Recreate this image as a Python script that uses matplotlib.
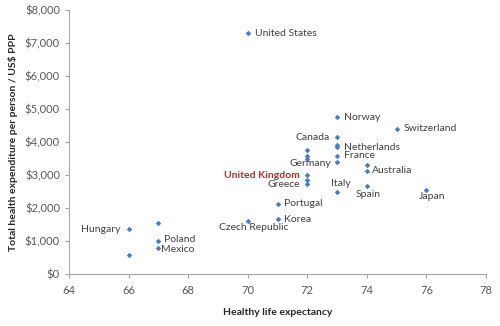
import matplotlib
matplotlib.use("Agg")
import matplotlib.pyplot as plt
from matplotlib.ticker import FuncFormatter

plt.rcParams['font.family'] = ['Lato', 'DejaVu Sans']

# Healthy life expectancy (years) vs total health spend per person (US$ PPP)
countries = ["United States", "Norway", "Switzerland", "Canada", "Netherlands", "",
             "France", "Germany", "", "", "", "Australia", "",
             "United Kingdom", "", "Greece", "Italy", "Spain", "Japan",
             "Portugal", "Korea", "Czech Republic", "Hungary", "", "Poland",
             "Mexico", ""]
life_exp = [70, 73, 75, 73, 73, 73,
            73, 73, 72, 72, 72, 74, 74,
            72, 72, 72, 73, 74, 76,
            71, 71, 70, 66, 67, 67,
            67, 66]
spend = [7285, 4740, 4400, 4140, 3840, 3900,
         3580, 3390, 3740, 3560, 3480, 3120, 3300,
         2990, 2830, 2720, 2490, 2650, 2550,
         2130, 1660, 1610, 1350, 1540, 1010,
         790, 580]

# label placement: (dx, dy) in points and horizontal alignment
placement = {
    "United States": (5, 0, "left"),
    "Norway": (5, 0, "left"),
    "Switzerland": (5, 0, "left"),
    "Canada": (-5, 0, "right"),
    "Netherlands": (5, 0, "left"),
    "France": (5, 0, "left"),
    "Germany": (-4, -1, "right"),
    "Australia": (4, 0, "left"),
    "United Kingdom": (-5, 0, "right"),
    "Greece": (-5, 0, "right"),
    "Italy": (3, 6, "center"),
    "Spain": (1, -6, "center"),
    "Japan": (4, -5, "center"),
    "Portugal": (5, 0, "left"),
    "Korea": (5, 0, "left"),
    "Czech Republic": (4, -5, "center"),
    "Hungary": (-6, 0, "right"),
    "Poland": (4, 1, "left"),
    "Mexico": (2, -1, "left"),
}

fig = plt.figure(figsize=(5.0, 3.26), dpi=100)
ax = fig.add_axes([0.138, 0.16, 0.834, 0.81])

ax.scatter(life_exp, spend, marker="D", s=8, color="#4A7EBB", zorder=3,
           linewidths=0)

for name, x, y in zip(countries, life_exp, spend):
    if not name:
        continue
    dx, dy, ha = placement[name]
    if name == "United Kingdom":
        ax.annotate(name, (x, y), xytext=(dx, dy), textcoords="offset points",
                    ha=ha, va="center", fontsize=7.5, color="#C0282D",
                    fontweight="bold")
    else:
        ax.annotate(name, (x, y), xytext=(dx, dy), textcoords="offset points",
                    ha=ha, va="center", fontsize=7.5, color="#404040")

ax.set_xlim(64, 78)
ax.set_ylim(0, 8000)
ax.set_xticks(range(64, 79, 2))
ax.set_yticks(range(0, 8001, 1000))
ax.yaxis.set_major_formatter(FuncFormatter(lambda v, p: f"${v:,.0f}"))

for side in ("top", "right"):
    ax.spines[side].set_visible(False)
for side in ("left", "bottom"):
    ax.spines[side].set_color("#A6A6A6")
    ax.spines[side].set_linewidth(0.8)
ax.tick_params(colors="#A6A6A6", length=3, width=0.8, labelsize=8,
               labelcolor="#595959")
ax.tick_params(axis="x", pad=5)

ax.set_xlabel("Healthy life expectancy", fontsize=7.5, fontweight="bold",
              color="#262626", labelpad=9)
ax.set_ylabel("Total health expenditure per person / US$ PPP", fontsize=7.5,
              fontweight="bold", color="#262626", labelpad=5)

fig.savefig("out.png", dpi=100)
